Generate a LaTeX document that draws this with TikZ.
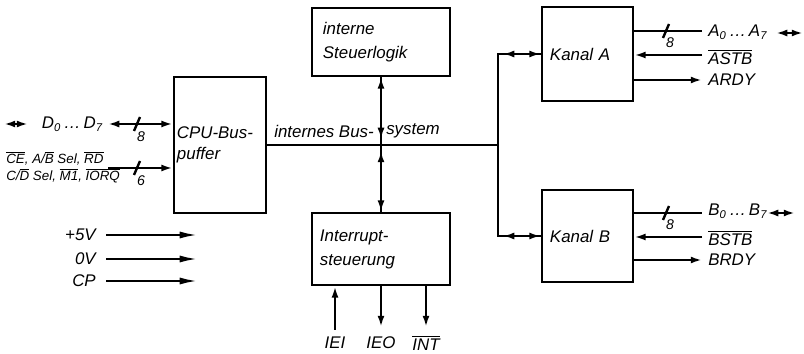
\documentclass[tikz,border=0pt]{standalone}
\usepackage{fontspec}
\setmainfont{Liberation Sans}
\usetikzlibrary{arrows.meta}

\tikzstyle{block}=[draw, line width=2pt, inner sep=0pt, align=left, font=\itshape\fontsize{12}{17}\selectfont]
\tikzstyle{sig}=[line width=1.7pt]
\tikzstyle{arrow}=[sig, -{Latex[length=8pt,width=5pt]}]
\tikzstyle{biarrow}=[sig, {Latex[length=8pt,width=5pt]}-{Latex[length=8pt,width=5pt]}]
\tikzstyle{powarrow}=[sig, -{Latex[length=13pt,width=5pt]}]
\tikzstyle{lbl}=[inner sep=0pt, font=\itshape\fontsize{12}{14}\selectfont]
\tikzstyle{small}=[inner sep=0pt, align=left, font=\itshape\fontsize{9.5}{12}\selectfont]

\newcommand{\ovl}[1]{$\overline{\hbox{#1}}$}

\begin{document}
\begin{tikzpicture}[x=0.025cm, y=-0.025cm]
      \useasboundingbox (0,0) rectangle (804,354);

      % blocks
      \node[block, minimum width=2.3cm, minimum height=3.4cm, text width=2.15cm,
            font=\itshape\fontsize{12}{15}\selectfont] (cpu) at (220,145) {CPU-Bus-\\puffer};
      \node[block, minimum width=3.45cm, minimum height=1.7cm, text width=2.9cm] (steu) at (381,42) {interne\\Steuerlogik};
      \node[block, minimum width=3.45cm, minimum height=1.8cm, text width=3.05cm] (intr) at (381,249) {Interrupt-\\steuerung};
      \node[block, minimum width=2.275cm, minimum height=2.35cm, text width=1.875cm] (kanA) at (587.5,54) {Kanal A};
      \node[block, minimum width=2.275cm, minimum height=2.3cm, text width=1.875cm] (kanB) at (587.5,236) {Kanal B};

      % internal bus
      \coordinate (bj) at (381,145);
      \coordinate (bj1) at (381,139);
      \coordinate (bj2) at (381,151);
      \coordinate (br) at (498,145);
      \coordinate (bA) at (498,54);
      \coordinate (bB) at (498,236);
      \coordinate (bAm) at (503,54);
      \coordinate (bBm) at (503,236);

      \draw[sig] (cpu.east |- bj) -- (br);
      \draw[sig, line cap=rect] (bA) -- (bB);
      \draw[sig] (bA) -- (kanA.west |- bA);
      \draw[sig] (bB) -- (kanB.west |- bB);
      \draw[biarrow] (bAm) -- (kanA.west |- bAm);
      \draw[biarrow] (bBm) -- (kanB.west |- bBm);
      \draw[sig] (steu.south) -- (intr.north);
      \draw[biarrow] (steu.south) -- (bj1);
      \draw[biarrow] (bj2) -- (intr.north);

      \node[lbl, anchor=east] (busl) at (374,131) {internes Bus-};
      \node[lbl, anchor=west] (busr) at (386,131) {system};

      % CPU side
      \coordinate (dd) at (108,124);
      \coordinate (cc) at (108,168);
      \coordinate (s8) at (137,124);
      \coordinate (s6) at (137,168);
      \coordinate (dl) at (4,124);
      \coordinate (dr) at (28,124);

      \draw[biarrow] (dd) -- (dd -| cpu.west);
      \draw[arrow] (cc) -- (cc -| cpu.west);
      \draw[sig] ([shift={(-3,7)}]s8) -- ([shift={(3,-7)}]s8);
      \draw[sig] ([shift={(-3,7)}]s6) -- ([shift={(3,-7)}]s6);
      \node[lbl, font=\itshape\fontsize{10}{10}\selectfont] (n8) at (141,137) {8};
      \node[lbl, font=\itshape\fontsize{10}{10}\selectfont] (n6) at (141,181) {6};
      \draw[biarrow] (dl) -- (dr);
      \node[lbl, anchor=east] (dlab) at (103,124) {D\textsubscript{0}\,\dots\,D\textsubscript{7}};
      \node[small, anchor=west] (clab) at (6,167)
            {\ovl{CE}, A/\ovl{B} Sel, \ovl{RD}\\C/\ovl{D} Sel, \ovl{M1}, \ovl{IORQ}};

      % supply
      \foreach \nm/\txt/\yy in {p5/+5V/235, p0/0V/259, cp/CP/281} {
        \coordinate (\nm a) at (106,\yy);
        \coordinate (\nm b) at (198,\yy);
        \node[lbl, anchor=east] (\nm l) at (96,\yy) {\txt};
        \draw[powarrow] (\nm a) -- (\nm b);
      }

      % interrupt lines
      \coordinate (iei) at (335,330);
      \coordinate (ieo) at (381,327);
      \coordinate (int) at (426,327);
      \draw[arrow] (iei) -- (iei |- intr.south);
      \draw[arrow] (ieo |- intr.south) -- (ieo);
      \draw[arrow] (int |- intr.south) -- (int);
      \node[lbl] (ieil) at (335,343) {IEI};
      \node[lbl] (ieol) at (381,343) {IEO};
      \node[lbl] (intl) at (426,343) {\ovl{INT}};

      % Kanal A
      \coordinate (a0) at (702,31);
      \coordinate (a1) at (702,55);
      \coordinate (a2) at (702,80);
      \coordinate (sa) at (666,31);
      \draw[sig] (kanA.east |- a0) -- (a0);
      \draw[arrow] (a1) -- (kanA.east |- a1);
      \draw[arrow] (kanA.east |- a2) -- (a2);
      \draw[sig] ([shift={(-3,7)}]sa) -- ([shift={(3,-7)}]sa);
      \node[lbl, font=\itshape\fontsize{10}{10}\selectfont] (na) at (670,43) {8};
      \node[lbl, anchor=west] (a0l) at (708,32) {A\textsubscript{0}\,\dots\,A\textsubscript{7}};
      \node[lbl, anchor=west] (a1l) at (708,57) {\ovl{ASTB}};
      \node[lbl, anchor=west] (a2l) at (708,80) {ARDY};
      \coordinate (aba) at (776,33);
      \coordinate (abb) at (803,33);
      \draw[biarrow] (aba) -- (abb);

      % Kanal B
      \coordinate (b0) at (702,213);
      \coordinate (b1) at (702,237);
      \coordinate (b2) at (702,260);
      \coordinate (sb) at (666,213);
      \draw[sig] (kanB.east |- b0) -- (b0);
      \draw[arrow] (b1) -- (kanB.east |- b1);
      \draw[arrow] (kanB.east |- b2) -- (b2);
      \draw[sig] ([shift={(-3,7)}]sb) -- ([shift={(3,-7)}]sb);
      \node[lbl, font=\itshape\fontsize{10}{10}\selectfont] (nb) at (670,225) {8};
      \node[lbl, anchor=west] (b0l) at (708,211) {B\textsubscript{0}\,\dots\,B\textsubscript{7}};
      \node[lbl, anchor=west] (b1l) at (708,238) {\ovl{BSTB}};
      \node[lbl, anchor=west] (b2l) at (708,260) {BRDY};
      \coordinate (bba) at (767,213);
      \coordinate (bbb) at (795,213);
      \draw[biarrow] (bba) -- (bbb);
\end{tikzpicture}
\end{document}
